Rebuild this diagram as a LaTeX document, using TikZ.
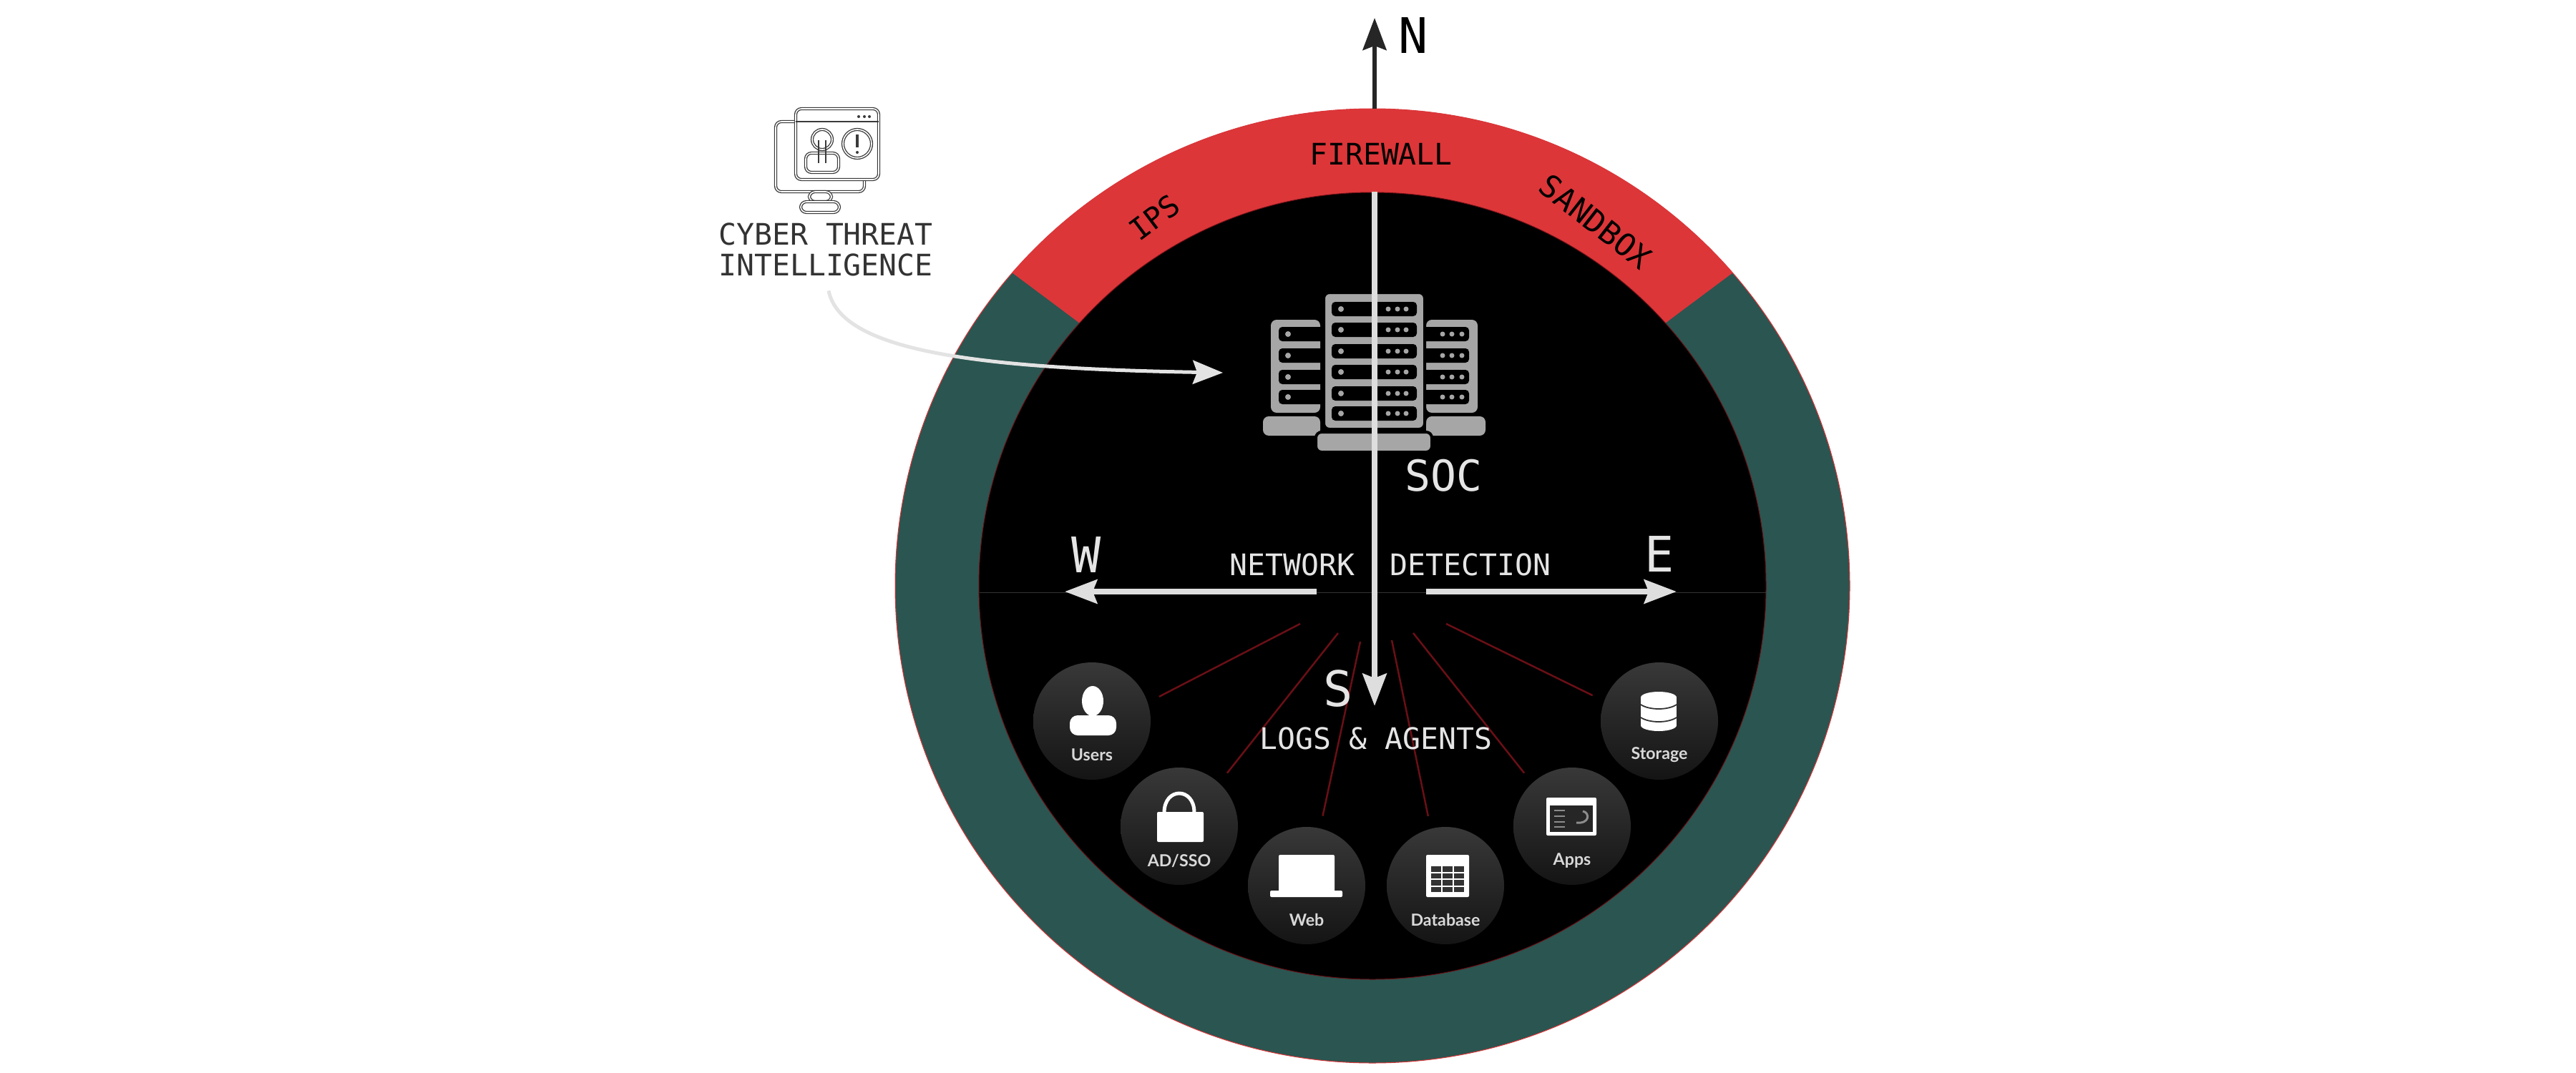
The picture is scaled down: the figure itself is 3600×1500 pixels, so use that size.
\documentclass[tikz,border=0pt]{standalone}
\usepackage{fontspec}
\usetikzlibrary{arrows.meta, positioning, calc}
\newfontfamily\monofam{DejaVu Sans Mono}
\newfontfamily\iconfam{Lato}

\definecolor{ringgreen}{HTML}{2B5550}
\definecolor{ringred}{HTML}{DC3639}
\definecolor{logred}{HTML}{6A0F16}
\definecolor{servergrey}{HTML}{A6A6A6}
\definecolor{axisgrey}{HTML}{DEDEDE}
\definecolor{ctigrey}{HTML}{3A3A3A}

\tikzstyle{axis} = [draw=axisgrey, line width=0.85mm, -{Stealth[length=4.5mm,width=3.3mm,inset=0.6mm]}]
\tikzstyle{logline} = [draw=logred, line width=0.25mm]
\tikzstyle{source} = [circle, minimum size=16.4mm, inner sep=0, outer sep=1.8mm, top color=black!78, bottom color=black!92]
\tikzstyle{iconlabel} = [font=\iconfam\bfseries\fontsize{6.6}{7}\selectfont, text=white!85!black, inner sep=0]
\tikzstyle{compass} = [font=\monofam\fontsize{19.5}{20}\selectfont, inner sep=0]
\tikzstyle{band} = [font=\monofam\fontsize{11.8}{13}\selectfont, text=white!90!black, inner sep=0]
\tikzstyle{ringtext} = [font=\monofam\fontsize{11.8}{13}\selectfont, text=black, inner sep=0]
\tikzstyle{ctiline} = [draw=ctigrey, line width=0.13mm, double=white, double distance=0.16mm, rounded corners=0.8mm]

\begin{document}
\begin{tikzpicture}[x=0.1mm, y=-0.1mm]
  \useasboundingbox (0,0) rectangle (3600,1500);

  % Draw the ring and the disc.
  \coordinate (c) at (1918,819);
  \fill[draw=ringred, line width=0.1mm, fill=ringgreen] (c) circle[radius=667];
  \fill[ringred] (c) ++(-139:667) arc[start angle=-139, end angle=-41, radius=667]
      -- ($(c)+(-42:540)$) arc[start angle=-42, end angle=-138, radius=540] -- cycle;
  \fill[draw=logred, line width=0.1mm, fill=black] (c) circle[radius=550];
  \draw[black!80, line width=0.1mm] (1369,828) -- (2468,828);

  % Ring labels
  \node[ringtext] (firewall) at (1930,215) {FIREWALL};
  \node[ringtext, rotate=37] (ips) at (1613,304) {IPS};
  \node[ringtext, rotate=-38, font=\monofam\fontsize{12.4}{13}\selectfont] (sandbox) at (2230,310) {SANDBOX};

  % Server racks, side ones first
  \fill[servergrey, rounded corners=0.8mm] (1776,447) rectangle (1845,577);
  \fill[servergrey, rounded corners=0.8mm] (1765,582) rectangle (1845,609);
  \fill[servergrey, rounded corners=0.8mm] (1993,447) rectangle (2065,577);
  \fill[servergrey, rounded corners=0.8mm] (1993,582) rectangle (2076,609);
  \foreach \y in {467,497,527,555} {
    \fill[black, rounded corners=0.5mm] (1787,\y-10) rectangle (1850,\y+10);
    \fill[servergrey] (1800,\y) circle[radius=4];
    \fill[black, rounded corners=0.5mm] (1985,\y-10) rectangle (2053,\y+10);
    \foreach \x in {2016,2029,2043}
      \fill[servergrey] (\x,\y) circle[radius=3.5];
  }
  \fill[servergrey, draw=black, line width=0.4mm, rounded corners=0.8mm] (1850,409) rectangle (1991,600);
  \fill[servergrey, draw=black, line width=0.4mm, rounded corners=0.8mm] (1839,604) rectangle (2001,632);
  \foreach \y in {432,461,491,520,550,578} {
    \fill[black, rounded corners=0.5mm] (1861,\y-10) rectangle (1980,\y+10);
    \fill[servergrey] (1874,\y) circle[radius=4];
    \foreach \x in {1940,1953,1965}
      \fill[servergrey] (\x,\y) circle[radius=3.5];
  }
  \node[font=\monofam\fontsize{17}{18}\selectfont, text=white!90!black, inner sep=0] (soc) at (2017,665) {SOC};

  % Log sources
  \node[source] (users) at (1526,1008) {};
  \node[source] (adsso) at (1648,1155) {};
  \node[source] (web) at (1826,1238) {};
  \node[source] (database) at (2020,1238) {};
  \node[source] (apps) at (2197,1155) {};
  \node[source] (storage) at (2319,1008) {};

  \node[iconlabel] (userstext) at (1526,1055) {Users};
  \node[iconlabel] (adssotext) at (1648,1203) {AD/SSO};
  \node[iconlabel] (webtext) at (1826,1286) {Web};
  \node[iconlabel] (databasetext) at (2020,1286) {Database};
  \node[iconlabel] (appstext) at (2197,1203) {Apps};
  \node[iconlabel] (storagetext) at (2319,1055) {Storage};

  % Icons inside the sources
  \fill[white] (1527,980) ellipse[x radius=15, y radius=21];
  \fill[white, rounded corners=1.1mm] (1495,1000) rectangle (1560,1028);
  \fill[white, rounded corners=0.2mm] (1617,1135) rectangle (1682,1177);
  \draw[white, line width=0.5mm] (1627,1136) .. controls (1627,1100) and (1669,1100) .. (1669,1136);
  \fill[white, rounded corners=0.2mm] (1787,1195) rectangle (1865,1248);
  \fill[white, rounded corners=0.2mm] (1775,1245) rectangle (1876,1254);
  \fill[white, rounded corners=0.2mm] (1993,1195) rectangle (2053,1254);
  \foreach \i in {0,1,2}
    \foreach \j in {0,1,2,3}
      \fill[black!80] (2000+16*\i,1211+9.5*\j) rectangle (2014+16*\i,1218.5+9.5*\j);
  \fill[white, rounded corners=0.2mm] (2161,1115) rectangle (2231,1168);
  \fill[black!85] (2166,1126) rectangle (2226,1163);
  \foreach \y in {1133,1141,1149,1156}
    \draw[black!45, line width=0.25mm] (2172,\y) -- (2187,\y);
  \draw[black!45, line width=0.3mm] (2203,1150) .. controls (2222,1152) and (2222,1136) .. (2212,1134);
  \fill[white] (2293,975) rectangle (2343,1014);
  \fill[white] (2318,975) ellipse[x radius=25, y radius=8];
  \fill[white] (2318,1014) ellipse[x radius=25, y radius=8];
  \foreach \y in {985,1003}
    \draw[black!80, line width=0.18mm] (2293,\y) .. controls (2305,\y+8) and (2331,\y+8) .. (2343,\y);

  % Hub points of the log lines
  \coordinate (husers) at (1817,872);
  \coordinate (hadsso) at (1870,885);
  \coordinate (hweb) at (1901,897);
  \coordinate (hdatabase) at (1945,895);
  \coordinate (happs) at (1975,885);
  \coordinate (hstorage) at (2021,872);
  \path[logline] (husers) -- (users.20);
  \path[logline] (hadsso) -- (adsso.48);
  \path[logline] (hweb) -- (web.77);
  \path[logline] (hdatabase) -- (database.104);
  \path[logline] (happs) -- (apps.132);
  \path[logline] (hstorage) -- (storage.159);

  % Compass arrows
  \coordinate (ntop) at (1921,152);
  \coordinate (ntip) at (1921,25);
  \coordinate (stop) at (1921,268);
  \coordinate (stip) at (1921,987);
  \coordinate (ebase) at (1993,827);
  \coordinate (etip) at (2343,827);
  \coordinate (wbase) at (1840,827);
  \coordinate (wtip) at (1488,827);
  \path[axis, draw=black!85, line width=0.6mm] (ntop) -- (ntip);
  \path[axis] (stop) -- (stip);
  \path[axis] (ebase) -- (etip);
  \path[axis] (wbase) -- (wtip);

  \node[compass, text=black] (n) at (1975,50) {N};
  \node[compass, text=white!90!black] (w) at (1518,776) {W};
  \node[compass, text=white!90!black] (e) at (2319,775) {E};
  \node[compass, text=white!90!black] (s) at (1870,963) {S};
  \node[band] (network) at (1806,789) {NETWORK};
  \node[band] (detection) at (2055,789) {DETECTION};
  \node[band] (logs) at (1923,1032) {LOGS \& AGENTS};

  % Threat intelligence icon
  \path[ctiline, fill=white] (1084,170) rectangle (1208,268);
  \path[ctiline, fill=white] (1112,152) rectangle (1228,251);
  \draw[ctigrey, line width=0.25mm] (1112,170) -- (1228,170);
  \foreach \x in {1200,1208,1215}
    \fill[ctigrey] (\x,163) circle[radius=2];
  \path[ctiline, fill=white] (1131,268) rectangle (1162,282);
  \path[ctiline, fill=white] (1119,282) rectangle (1173,297);
  \path[ctiline, fill=white] (1126,214) rectangle (1172,241);
  \path[ctiline, fill=white] (1149,195) circle[radius=14];
  \draw[ctigrey, line width=0.25mm] (1144,196) -- (1144,228) (1154,196) -- (1154,228);
  \path[ctiline] (1198,201) circle[radius=20];
  \draw[ctigrey, line width=0.35mm] (1198,188) -- (1198,206);
  \fill[ctigrey] (1198,213) circle[radius=2];

  \node[font=\monofam\fontsize{11.8}{12.2}\selectfont, text=black!80, align=center, inner sep=0] (cti) at (1154,349) {CYBER THREAT\\INTELLIGENCE};
  \coordinate (ctitip) at (1709,521);
  \draw[axisgrey!85!white, line width=0.5mm, shorten <=2mm, -{Stealth[length=4.2mm,width=3.3mm,inset=0.6mm]}] (cti.south) .. controls (1175,490) and (1360,515) .. (ctitip);
\end{tikzpicture}
\end{document}
